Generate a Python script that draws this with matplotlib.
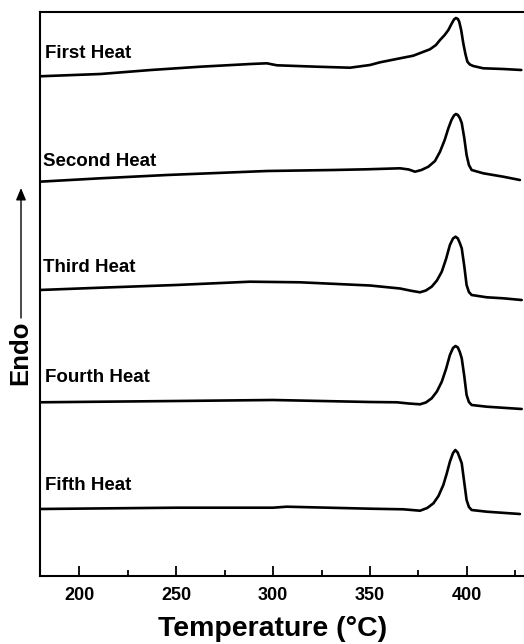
import matplotlib
matplotlib.use('Agg')
import matplotlib.pyplot as plt
from matplotlib.ticker import MultipleLocator

plt.rcParams['font.family'] = ['Liberation Sans', 'DejaVu Sans']
plt.rcParams['font.weight'] = 'bold'

# values (temperature in C, signal in arbitrary units, offset per run)
first_T = [179.6, 211, 237, 262.6, 288.4, 296.8, 302, 322.5, 339.7, 350, 355.2, 365.5,
           372.3, 380.9, 384, 386.1, 388.5, 390.4, 392, 393.3, 394.3, 395.3, 396.0, 397,
           398.1, 399.2, 400.2, 401.5, 403.2, 408.4, 418.7, 428]
first_y = [499.7, 502, 506, 509.3, 512, 512.7, 510.7, 509.3, 508.3, 511, 513.7, 517.7,
           520.3, 526.7, 531, 536, 541, 546, 552, 556.5, 558, 557, 554.3, 546,
           532.7, 522, 514.3, 511.5, 510, 507.7, 507, 506]

second_T = [179.6, 211, 245.3, 296.8, 331.1, 348.3, 365.5, 370, 373.2, 376.5, 380.1, 383.5,
            386.1, 388.5, 390.4, 392, 393.3, 394.3, 395.3, 396.3, 397.3, 398.6, 399.8, 401,
            402.4, 408.4, 418.7, 427.3]
second_y = [394.3, 397.7, 401, 405, 406, 406.7, 407.7, 406.5, 404.3, 406, 409.3, 415,
            424.3, 436, 447.7, 456, 460.5, 462, 461, 458, 453, 438, 421, 411,
            406, 402.7, 399.3, 396]

third_T = [179.6, 211, 250, 288.1, 313.9, 350, 365.5, 371, 375.8, 378.8, 381.8, 384.5,
           387, 389.2, 391.2, 392.8, 394.1, 395.3, 396.3, 397.3, 398.6, 399.8, 401,
           402.4, 410.2, 418.7, 428.2]
third_y = [286, 288.3, 291, 294.3, 293.7, 290.5, 287.5, 285.3, 283.7, 285.5, 289.3, 295.5,
           304.3, 317, 331, 337.5, 339.3, 337.5, 333, 327.7, 310, 291, 284,
           281, 278.7, 277.7, 276]

fourth_T = [179.6, 250, 300, 350, 363.8, 370, 375.8, 378.8, 381.8, 384.5, 387, 389.2,
            391.2, 392.8, 394.1, 395.3, 396.3, 397.3, 398.6, 399.8, 401, 402.4, 410.2, 428.2]
fourth_y = [173.7, 175, 176, 174, 173.7, 172.5, 171.7, 173.5, 177.7, 184.5, 194.3, 207,
            221, 228, 230, 228.5, 224, 217.7, 200, 181, 174, 171, 169.3, 167]

fifth_T = [179.6, 250, 300, 307, 350, 367.2, 375.8, 379.5, 382.7, 385.3, 387.8, 389.5,
           391.2, 392.8, 394.0, 395.2, 396.3, 397.3, 398.5, 399.8, 401, 402.4, 410.2, 427.3]
fifth_y = [67, 68.3, 68.3, 69.3, 67.3, 66.7, 65.3, 68, 72.7, 80, 91, 102,
           114.3, 123, 126, 123.5, 118, 112.7, 95, 76, 69, 66, 64.3, 62]

run_names = ['First Heat', 'Second Heat', 'Third Heat', 'Fourth Heat', 'Fifth Heat']
runs = [(first_T, first_y), (second_T, second_y), (third_T, third_y),
        (fourth_T, fourth_y), (fifth_T, fifth_y)]
label_T = [182.3, 181.3, 181.3, 182.3, 182.3]
label_y = [522, 415, 308, 199, 91]

x_ticks = [200, 250, 300, 350, 400]

fig = plt.figure(figsize=(5.24, 6.44), dpi=100)
ax = fig.add_axes([39.5 / 524, 1 - 576 / 644, (524 - 39.5) / 524, 564 / 644])

for (T, y) in runs:
    ax.plot(T, y, color='black', lw=1.9, solid_joinstyle='round', solid_capstyle='round')

for name, lt, ly in zip(run_names, label_T, label_y):
    ax.text(lt, ly, name, fontsize=13.5, fontweight='bold', ha='left', va='center')

ax.set_xlim(179.6, 429.4)
ax.set_ylim(0, 564)
ax.set_xticks(x_ticks)
ax.xaxis.set_minor_locator(MultipleLocator(25))
ax.set_yticks([])
ax.tick_params(axis='x', which='major', direction='in', length=7, width=1.3,
               labelsize=13, pad=8)
ax.tick_params(axis='x', which='minor', direction='in', length=4.3, width=1.3)
for lab in ax.get_xticklabels():
    lab.set_fontweight('bold')
for side in ['left', 'top', 'bottom']:
    ax.spines[side].set_linewidth(1.5)
ax.spines['right'].set_visible(False)

fig.text(273 / 524, 1 - 636 / 644, 'Temperature (°C)', fontsize=20.5, fontweight='bold',
         ha='center', va='baseline')
fig.text(20 / 524, 1 - 353 / 644, 'Endo', fontsize=18.5, fontweight='bold',
         rotation=90, ha='center', va='center')
ax.annotate('', xy=(21 / 524, 1 - 188 / 644), xytext=(21 / 524, 1 - 318 / 644),
            xycoords='figure fraction', textcoords='figure fraction',
            arrowprops=dict(arrowstyle='-|>,head_length=0.6,head_width=0.25',
                            lw=1.0, color='black', mutation_scale=12,
                            shrinkA=0, shrinkB=0))

fig.savefig('out.png', dpi=100)
